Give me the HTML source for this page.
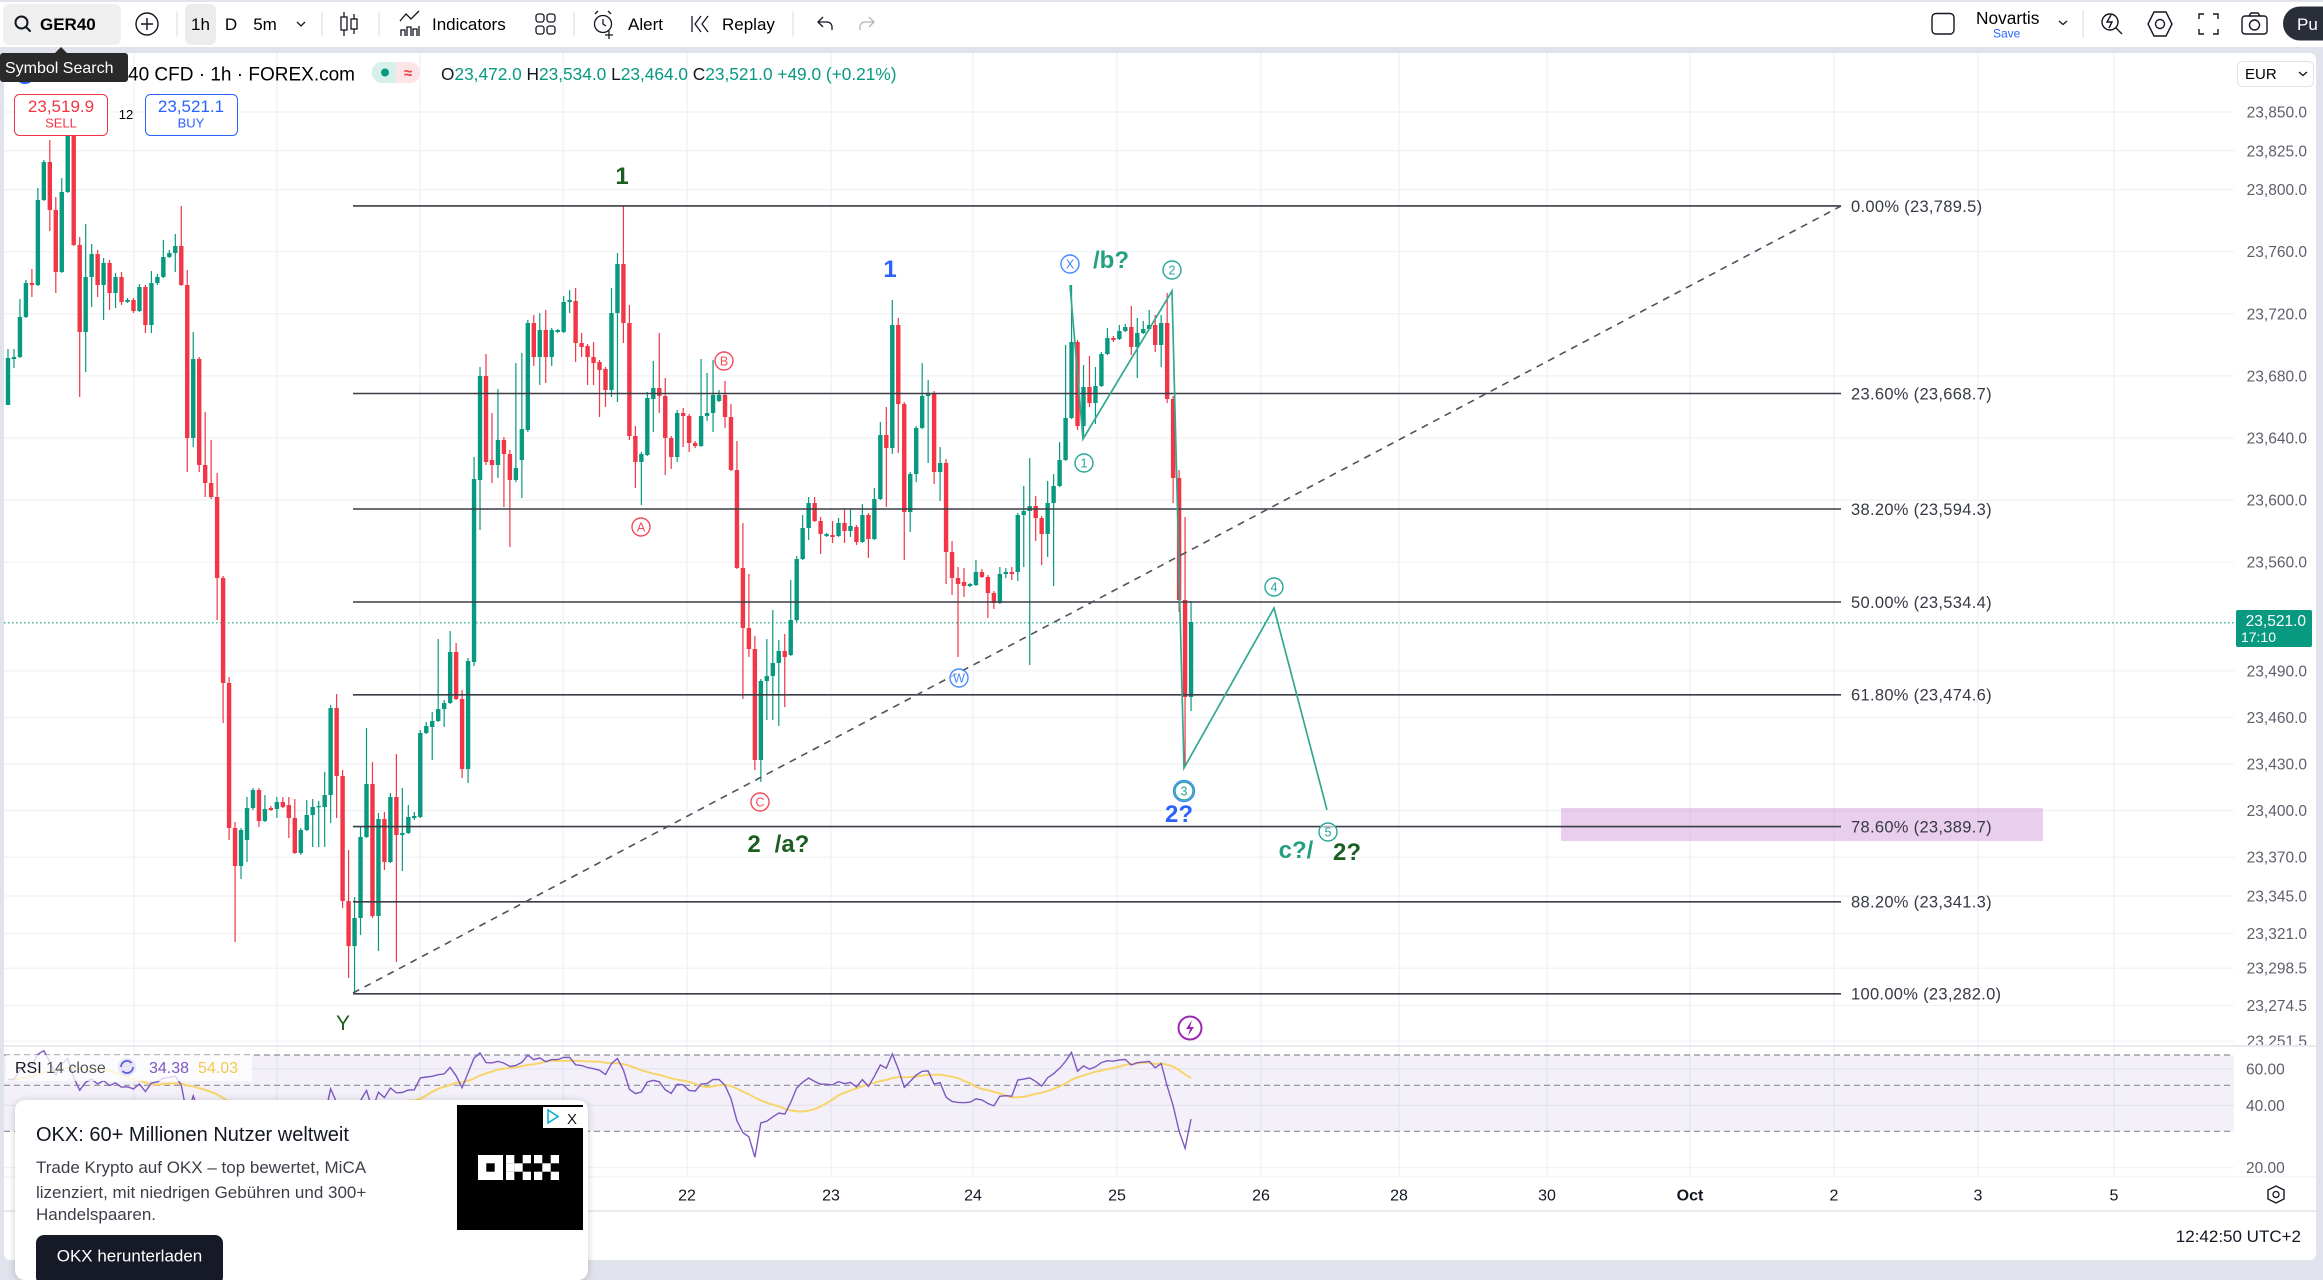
<!DOCTYPE html>
<html><head><meta charset="utf-8">
<style>
*{margin:0;padding:0;box-sizing:border-box}
html,body{width:2323px;height:1266px;overflow:hidden;background:#e0e3eb;font-family:"Liberation Sans",Arial,sans-serif;color:#131722}
.abs{position:absolute}
#ad{left:15px;top:1100px;width:573px;height:180px;background:#fff;border-radius:10px;box-shadow:0 1px 8px rgba(0,0,0,.2)}
</style></head><body>
<div class="abs" style="left:0;top:2px;width:2323px;height:45px;background:#fff"></div>
<div class="abs" style="left:4px;top:53px;width:2312px;height:1207px;background:#fff;border-radius:6px"></div>

<svg class="abs" style="left:0;top:0" width="2323" height="1266" viewBox="0 0 2323 1266" font-family="Liberation Sans, Arial, sans-serif">
<defs>
<clipPath id="rc"><rect x="4" y="1047" width="2230" height="129"/></clipPath>
<clipPath id="mc"><rect x="4" y="53" width="2312" height="992"/></clipPath>
</defs>
<g id="grid"></g>
<line x1="4" y1="1046" x2="2316" y2="1046" stroke="#e0e3eb" stroke-width="1.5"/>
<line x1="4" y1="1177" x2="2316" y2="1177" stroke="#f0f1f4" stroke-width="1"/>
<line x1="4" y1="1211" x2="2316" y2="1211" stroke="#e0e3eb" stroke-width="1.5"/>
<!-- RSI pane -->
<rect x="4" y="1055" width="2230" height="76.3" fill="#7e57c2" fill-opacity="0.09"/>
<g stroke="#8a8d96" stroke-width="1.2" stroke-dasharray="6 4">
<line x1="4" y1="1055" x2="2234" y2="1055"/>
<line x1="4" y1="1085.3" x2="2234" y2="1085.3"/>
<line x1="4" y1="1131.3" x2="2234" y2="1131.3"/>
</g>
<g clip-path="url(#rc)">
<polyline id="rsima" fill="none" stroke="#f7d56a" stroke-width="2"/>
<polyline id="rsi" fill="none" stroke="#7e57c2" stroke-width="1.4"/>
</g>
<!-- current price line -->
<line x1="4" y1="622.8" x2="2234" y2="622.8" stroke="#089981" stroke-width="1.2" stroke-dasharray="1.5 2.5"/>
<g id="cd" clip-path="url(#mc)"></g>
<!-- fib -->
<rect x="1561" y="808" width="482" height="33" fill="#ce93d8" fill-opacity="0.45"/>
<g stroke="#3a3d45" stroke-width="1.6">
<line x1="353" y1="205.9" x2="1841" y2="205.9"/>
<line x1="353" y1="393.5" x2="1841" y2="393.5"/>
<line x1="353" y1="509" x2="1841" y2="509"/>
<line x1="353" y1="602" x2="1841" y2="602"/>
<line x1="353" y1="694.8" x2="1841" y2="694.8"/>
<line x1="353" y1="826.6" x2="1841" y2="826.6"/>
<line x1="353" y1="901.8" x2="1841" y2="901.8"/>
<line x1="353" y1="993.8" x2="1841" y2="993.8"/>
</g>
<g font-size="16.5" fill="#363a45" letter-spacing="0.3">
<text x="1851" y="211.8">0.00% (23,789.5)</text>
<text x="1851" y="399.4">23.60% (23,668.7)</text>
<text x="1851" y="514.9">38.20% (23,594.3)</text>
<text x="1851" y="607.9">50.00% (23,534.4)</text>
<text x="1851" y="700.7">61.80% (23,474.6)</text>
<text x="1851" y="832.5">78.60% (23,389.7)</text>
<text x="1851" y="907.7">88.20% (23,341.3)</text>
<text x="1851" y="999.7">100.00% (23,282.0)</text>
</g>
<line x1="353" y1="993" x2="1841" y2="206" stroke="#50535e" stroke-width="1.6" stroke-dasharray="7 6"/>
<!-- waves -->
<polyline points="1070,285 1083,439 1172,291 1184,768 1274,608 1327,810" fill="none" stroke="#33a891" stroke-width="1.7"/>
<g id="lbl"></g>
<!-- labels text -->
<g font-weight="bold" font-size="24" text-anchor="middle">
<text x="622" y="184" fill="#1b5e20">1</text>
<text x="890" y="277" fill="#2962ff">1</text>
<text x="1111" y="268" fill="#22a07f">/b?</text>
<text x="754" y="852" fill="#1b5e20">2</text>
<text x="792" y="852" fill="#1b5e20">/a?</text>
<text x="1179" y="822" fill="#2962ff">2?</text>
<text x="1296" y="858" fill="#22a07f">c?/</text>
<text x="1347" y="860" fill="#1b5e20">2?</text>
</g>
<text x="343" y="1030" font-size="21" fill="#1b5e20" text-anchor="middle">Y</text>
<!-- lightning -->
<circle cx="1190" cy="1028" r="11.5" fill="#fff" stroke="#9c27b0" stroke-width="2"/>
<path d="M1192 1020l-6 9h4l-2 7 6-9h-4z" fill="#9c27b0"/>
<!-- price axis -->
<g id="pax" clip-path="url(#mc)" font-size="15.5" fill="#5d606b" text-anchor="end"></g>
<rect x="2236" y="610" width="76" height="37" rx="2" fill="#089981"/>
<text x="2306" y="626" font-size="15.5" fill="#fff" text-anchor="end">23,521.0</text>
<text x="2276" y="642" font-size="14" fill="#fff" text-anchor="end">17:10</text>
<rect x="2237.5" y="61.5" width="76" height="25" rx="5" fill="#fff" stroke="#e0e3eb"/>
<text x="2245" y="79" font-size="15">EUR</text>
<path d="M2299 72l4 3.5 4-3.5" fill="none" stroke="#131722" stroke-width="1.3"/>
<!-- RSI axis -->
<g font-size="15.5" fill="#5d606b">
<text x="2246" y="1074.5">60.00</text>
<text x="2246" y="1111">40.00</text>
<text x="2246" y="1173">20.00</text>
</g>
<!-- time axis -->
<g font-size="16" fill="#131722" text-anchor="middle">
<text x="687" y="1200.5">22</text><text x="831" y="1200.5">23</text><text x="973" y="1200.5">24</text>
<text x="1117" y="1200.5">25</text><text x="1261" y="1200.5">26</text><text x="1399" y="1200.5">28</text>
<text x="1547" y="1200.5">30</text><text x="1690" y="1200.5" font-weight="bold">Oct</text>
<text x="1834" y="1200.5">2</text><text x="1978" y="1200.5">3</text><text x="2114" y="1200.5">5</text>
</g>
<polygon points="2276,1186 2284,1190 2284,1199 2276,1203 2268,1199 2268,1190" fill="none" stroke="#131722" stroke-width="1.4"/>
<circle cx="2276" cy="1194.5" r="3" fill="none" stroke="#131722" stroke-width="1.3"/>
<text x="2301" y="1242" font-size="17" fill="#131722" text-anchor="end">12:42:50 UTC+2</text>

<!-- toolbar left -->
<rect x="3" y="4" width="118" height="41" rx="6" fill="#efefef"/>
<circle cx="21.5" cy="22.5" r="6" fill="none" stroke="#131722" stroke-width="2"/>
<line x1="26" y1="27" x2="30" y2="31" stroke="#131722" stroke-width="2" stroke-linecap="round"/>
<text x="40" y="30" font-size="17" font-weight="bold">GER40</text>
<circle cx="147" cy="24" r="11" fill="none" stroke="#131722" stroke-width="1.4"/>
<path d="M147 18v12M141 24h12" stroke="#131722" stroke-width="1.4"/>
<g stroke="#e0e3eb" stroke-width="1.3"><line x1="177" y1="12" x2="177" y2="36"/><line x1="322" y1="12" x2="322" y2="36"/><line x1="379" y1="12" x2="379" y2="36"/><line x1="574" y1="12" x2="574" y2="36"/><line x1="793" y1="12" x2="793" y2="36"/><line x1="2083" y1="10" x2="2083" y2="38"/></g>
<rect x="185" y="4" width="31" height="41" rx="6" fill="#ececec"/>
<g font-size="17" text-anchor="middle"><text x="200.5" y="30">1h</text><text x="231" y="30">D</text><text x="265" y="30">5m</text></g>
<path d="M297 22l4 4 4-4" fill="none" stroke="#131722" stroke-width="1.3"/>
<g fill="none" stroke="#131722" stroke-width="1.3">
<path d="M344 12v24M354 14v20"/>
<rect x="341" y="17" width="6" height="13" fill="#fff"/><rect x="351" y="19" width="6" height="10" fill="#fff"/>
<path d="M400 21l6-7 5 5 8-8"/><path d="M401 36v-6h4v6M407 36v-9h4v9M413 36v-7h4v7M419 36v-10"/>
<rect x="536" y="14" width="8" height="8" rx="2.5"/><rect x="547" y="14" width="8" height="8" rx="2.5"/><rect x="536" y="26" width="8" height="8" rx="2.5"/><rect x="547" y="26" width="8" height="8" rx="2.5"/>
<circle cx="603" cy="24" r="8.5"/><path d="M603 19v5l3 2M595 14l3-3M611 14l-3-3M609 31v8M605 35h8"/>
<path d="M692 16v16M701 16l-6 8 6 8M708 16l-6 8 6 8"/>
<path d="M823 17l-5 5 5 5M818 22h9a5 5 0 0 1 5 5v3"/>
</g>
<path d="M869 17l5 5-5 5M874 22h-9a5 5 0 0 0-5 5v3" fill="none" stroke="#b2b5be" stroke-width="1.3"/>
<g font-size="17"><text x="432" y="30">Indicators</text><text x="628" y="30">Alert</text><text x="722" y="30">Replay</text></g>
<!-- toolbar right -->
<rect x="1932" y="13.5" width="22" height="20.5" rx="4" fill="none" stroke="#131722" stroke-width="1.4"/>
<text x="1976" y="24" font-size="17.3">Novartis</text>
<text x="1993" y="37.5" font-size="12" fill="#2962ff">Save</text>
<path d="M2059 21l4 3.5 4-3.5" fill="none" stroke="#131722" stroke-width="1.3"/>
<g fill="none" stroke="#131722" stroke-width="1.4">
<circle cx="2110" cy="22" r="8"/><path d="M2116 28l6 6M2111 15l-4 7h5l-3 6"/>
<polygon points="2160,12 2172,18 2172,30 2160,36 2148,30 2148,18" transform="rotate(90 2160 24)"/><circle cx="2160" cy="24" r="4.5"/>
<path d="M2199 19v-5h5M2213 14h5v5M2218 29v5h-5M2204 34h-5v-5"/>
<rect x="2242" y="16" width="25" height="18" rx="3"/><circle cx="2254.5" cy="25" r="5"/><path d="M2249 16l2-3h7l2 3"/>
</g>
<rect x="2283" y="6.5" width="60" height="34" rx="17" fill="#2a2e39"/>
<text x="2297" y="30" font-size="17" fill="#fff">Pu</text>

<!-- legend row -->
<circle cx="25" cy="74" r="10" fill="#2962ff"/>
<text x="128" y="80.5" font-size="19">40 CFD · 1h · FOREX.com</text>
<rect x="372" y="62" width="48" height="21" rx="10" fill="#fde4e7"/>
<path d="M382 62h14v21h-14a10 10 0 0 1 0-21z" fill="#d6f0ea"/>
<circle cx="385" cy="72.5" r="4" fill="#089981"/>
<text x="408" y="78" font-size="15" fill="#f23645" text-anchor="middle" font-weight="bold">≈</text>
<g font-size="17.3">
<text x="441" y="80"><tspan fill="#131722">O</tspan><tspan fill="#089981">23,472.0 </tspan><tspan fill="#131722">H</tspan><tspan fill="#089981">23,534.0 </tspan><tspan fill="#131722">L</tspan><tspan fill="#089981">23,464.0 </tspan><tspan fill="#131722">C</tspan><tspan fill="#089981">23,521.0 +49.0 (+0.21%)</tspan></text>
</g>
<rect x="14.5" y="94.5" width="93" height="41" rx="5" fill="#fff" stroke="#f23645"/>
<text x="61" y="112" font-size="17" fill="#f23645" text-anchor="middle">23,519.9</text>
<text x="61" y="127.5" font-size="13" fill="#f23645" text-anchor="middle">SELL</text>
<text x="126" y="119" font-size="13" text-anchor="middle">12</text>
<rect x="145.5" y="94.5" width="92" height="41" rx="5" fill="#fff" stroke="#2962ff"/>
<text x="191" y="112" font-size="17" fill="#2962ff" text-anchor="middle">23,521.1</text>
<text x="191" y="127.5" font-size="13" fill="#2962ff" text-anchor="middle">BUY</text>
<!-- RSI legend -->
<rect x="6" y="1055" width="246" height="26" fill="#fff" fill-opacity="0.75"/>
<text x="15" y="1073" font-size="16"><tspan fill="#131722">RSI</tspan><tspan fill="#50535e"> 14 close</tspan></text>
<circle cx="127" cy="1067" r="9" fill="#e8e4fa"/>
<path d="M121 1067a6 6 0 0 1 10.5-4M133 1067a6 6 0 0 1-10.5 4" fill="none" stroke="#5b5fd6" stroke-width="1.8"/>
<text x="149" y="1073" font-size="16" fill="#7e57c2">34.38</text>
<text x="198" y="1073" font-size="16" fill="#f2c94c">54.03</text>
<!-- tooltip -->
<rect x="0" y="53" width="128" height="29" rx="3" fill="#2a2a2a"/>
<polygon points="55,53 61,47 67,53" fill="#2a2a2a"/>
<text x="5" y="73" font-size="16" fill="#fff">Symbol Search</text>
</svg>

<!-- Ad -->
<div id="ad" class="abs">
<svg width="573" height="180" style="position:absolute;left:0;top:0" font-family="Liberation Sans, Arial, sans-serif">
<text x="21" y="41" font-size="20" fill="#131722">OKX: 60+ Millionen Nutzer weltweit</text>
<g font-size="17" fill="#3c3f48">
<text x="21" y="73">Trade Krypto auf OKX – top bewertet, MiCA</text>
<text x="21" y="98">lizenziert, mit niedrigen Gebühren und 300+</text>
<text x="21" y="120">Handelspaaren.</text>
</g>
<rect x="21" y="135" width="187" height="50" rx="8" fill="#151a26"/>
<text x="114.5" y="161.5" font-size="17" fill="#fff" text-anchor="middle">OKX herunterladen</text>
<rect x="442" y="5" width="126" height="125" fill="#000"/>
<g fill="#fff">
<rect x="463" y="55" width="25" height="25"/>
<rect x="471.3" y="63.3" width="8.4" height="8.4" fill="#000"/>
<rect x="491" y="55" width="8.3" height="8.3"/><rect x="491" y="63.3" width="8.3" height="8.4"/><rect x="491" y="71.7" width="8.3" height="8.3"/>
<rect x="499.3" y="63.3" width="8.4" height="8.4"/><rect x="507.7" y="55" width="8.3" height="8.3"/><rect x="507.7" y="71.7" width="8.3" height="8.3"/>
<rect x="519" y="55" width="8.3" height="8.3"/><rect x="535.7" y="55" width="8.3" height="8.3"/><rect x="527.3" y="63.3" width="8.4" height="8.4"/><rect x="519" y="71.7" width="8.3" height="8.3"/><rect x="535.7" y="71.7" width="8.3" height="8.3"/>
</g>
<rect x="528" y="7" width="40" height="21" fill="#fff"/>
<path d="M533 10v13l10-6.5z" fill="none" stroke="#00aecd" stroke-width="1.5"/>
<text x="557" y="24" font-size="15" fill="#131722" text-anchor="middle">X</text>
</svg>
</div>

<script>
(function(){
var D=[
[405,358,349,405],[359,357,349,368],[357,317,299,358],[317,283,280,318],[283,285,269,297],
[285,200,188,286],[200,162,160,201],[162,210,140,231],[210,272,197,293],[272,192,178,273],
[192,133,126,193],[133,245,128,246],[245,332,237,397],[332,277,224,372],[277,254,244,307],
[254,285,250,297],[285,263,258,320],[263,293,260,310],[293,277,273,308],[277,302,272,305],
[302,300,298,303],[300,311,298,313],[311,287,284,312],[287,325,285,333],[325,283,271,333],
[283,277,274,285],[277,257,240,278],[257,253,250,258],[253,246,234,272],[246,285,206,286],
[285,438,270,472],[438,359,332,447],[359,465,357,472],[465,483,412,497],[483,497,440,499],
[497,578,473,620],[578,683,576,723],[683,828,677,840],[828,866,822,942],[866,830,828,879],
[840,808,797,862],[808,790,788,810],[790,821,788,827],[821,809,795,822],[808,810,806,811],
[809,802,797,818],[802,807,797,808],[805,818,797,838],[818,853,799,854],[853,830,828,855],
[830,815,800,831],[815,807,799,847],[807,806,801,847],[807,795,772,847],[795,708,705,823],
[708,776,694,818],[776,901,770,908],[901,946,850,978],[946,918,897,993],[918,837,827,935],
[837,784,728,838],[784,916,762,918],[916,819,813,951],[819,862,812,870],[862,797,793,863],
[797,835,754,962],[835,833,788,871],[833,817,805,834],[818,816,812,820],[817,733,730,818],
[733,726,722,734],[727,721,712,760],[721,709,639,722],[709,703,700,727],[703,652,631,704],
[652,699,643,700],[699,769,690,778],[769,661,658,783],[662,479,457,666],[480,376,367,530],
[376,462,354,465],[460,465,413,483],[465,440,389,478],[440,454,437,507],[454,480,450,547],
[480,468,363,482],[460,429,353,498],[430,323,320,432],[323,357,315,366],[357,330,313,385],
[330,357,310,383],[357,330,328,366],[332,330,329,333],[332,302,296,333],[302,300,290,313],
[301,343,288,362],[343,347,333,357],[346,357,344,385],[357,363,342,385],[362,370,360,417],
[369,390,367,407],[390,313,288,397],[313,264,253,402],[264,323,206,343],[323,436,305,440],
[436,462,426,488],[462,454,452,505],[455,398,392,456],[399,388,361,432],[388,396,333,413],
[396,438,378,475],[438,457,436,469],[457,413,410,462],[413,416,408,447],[416,443,414,452],
[443,446,441,448],[446,416,359,447],[416,413,373,421],[413,395,360,432],[401,395,390,402],
[395,417,381,428],[417,470,404,471],[470,568,441,569],[568,628,523,699],[628,649,574,657],
[649,760,636,770],[760,681,679,782],[681,676,639,720],[676,663,610,720],[663,651,640,726],
[651,657,634,707],[655,620,580,656],[620,559,556,622],[559,528,515,560],[528,503,497,540],
[503,521,497,522],[521,534,517,554],[536,534,533,537],[535,537,521,543],[536,523,518,537],
[523,531,509,543],[531,526,509,537],[527,542,525,545],[542,515,504,543],[515,539,513,558],
[539,499,488,540],[499,435,422,500],[435,448,407,507],[448,325,300,454],[325,404,318,453],
[404,512,402,560],[512,474,472,532],[474,428,426,482],[428,396,363,429],[396,393,380,463],
[393,472,391,484],[472,463,447,501],[463,552,459,584],[552,578,541,595],[578,584,567,657],
[582,586,568,597],[586,584,583,587],[585,572,560,586],[572,577,569,578],[577,593,575,618],
[593,603,591,609],[603,574,567,604],[574,572,568,578],[572,574,567,580],[572,515,513,581],
[515,511,486,567],[511,506,458,665],[506,518,496,541],[518,534,516,565],[534,503,481,557],
[503,486,474,586],[486,460,442,487],[460,418,345,461],[418,342,285,419],[342,426,340,430],
[426,387,365,438],[387,403,356,407],[403,386,367,424],[386,354,352,387],[354,338,328,355],
[338,340,336,342],[339,331,325,340],[331,327,324,332],[327,347,306,355],[347,333,318,378],
[333,329,321,334],[329,325,310,330],[325,345,315,352],[345,323,315,367],[323,399,293,403],
[399,478,396,503],[478,600,470,612],[600,697,517,766],[697,622,601,711]];
var X0=8,DX=5.975,s='',i;
for(i=0;i<D.length;i++){var d=D[i],x=X0+i*DX,o=d[0],c=d[1],t=Math.min(o,c),b=Math.max(o,c),h=Math.min(d[2],t),l=Math.max(d[3],b),col=(c<=o)?'#089981':'#f23645';
s+='<rect x="'+(x-0.6).toFixed(2)+'" y="'+h+'" width="1.2" height="'+(l-h)+'" fill="'+col+'"/>';
s+='<rect x="'+(x-2.2).toFixed(2)+'" y="'+t+'" width="4.4" height="'+Math.max(b-t,1.3)+'" fill="'+col+'"/>';}
document.getElementById('cd').innerHTML=s;
/* grid */
var hy=[111.97,150.78,189.6,251.7,313.8,375.9,438,500.1,562.2,670.9,717.5,764.1,810.6,857.2,896,933.3,968.2,1005.5,1041.2];
var vx=[134,277,420,563,687,831,973,1117,1261,1399,1547,1690,1834,1978,2114];
var g='';
hy.forEach(function(y){g+='<line x1="4" y1="'+y+'" x2="2234" y2="'+y+'" stroke="#f0f1f4" stroke-width="1.2"/>';});
[1068.9,1105.4,1167.7].forEach(function(y){g+='<line x1="4" y1="'+y+'" x2="2234" y2="'+y+'" stroke="#f0f1f4" stroke-width="1.2"/>';});
vx.forEach(function(x){g+='<line x1="'+x+'" y1="53" x2="'+x+'" y2="1176" stroke="#f0f1f4" stroke-width="1.2"/>';});
document.getElementById('grid').innerHTML=g;
/* price axis */
var pv=['23,850.0','23,825.0','23,800.0','23,760.0','23,720.0','23,680.0','23,640.0','23,600.0','23,560.0','23,490.0','23,460.0','23,430.0','23,400.0','23,370.0','23,345.0','23,321.0','23,298.5','23,274.5','23,251.5'];
var pa='';pv.forEach(function(v,k){pa+='<text x="2307" y="'+(hy[k]+5.5).toFixed(1)+'">'+v+'</text>';});
document.getElementById('pax').innerHTML=pa;
/* circle labels */
function cl(x,y,col,t){return '<circle cx="'+x+'" cy="'+y+'" r="9" fill="#fff" fill-opacity="0.6" stroke="'+col+'" stroke-width="1.4"/><text x="'+x+'" y="'+(y+4.5)+'" font-size="12.5" fill="'+col+'" text-anchor="middle">'+t+'</text>';}
var L='';
L+=cl(724,361,'#f44a5a','B')+cl(641,527,'#f44a5a','A')+cl(760,802,'#f44a5a','C');
L+=cl(1070,264,'#448aff','X')+cl(959,678,'#448aff','W');
L+=cl(1172,270,'#26a69a','2')+cl(1084,463,'#26a69a','1')+cl(1274,587,'#26a69a','4')+cl(1328,832,'#26a69a','5');
L+='<circle cx="1184" cy="791" r="10.5" fill="none" stroke="#448aff" stroke-width="1.4"/>'+cl(1184,791,'#26a69a','3');
document.getElementById('lbl').innerHTML=L;
/* RSI */
var P=D.map(function(d){return 23789.5-(d[1]-205.9)/1.5526;});
var W=[];for(var k=0;k<40;k++){W.push(23655+k*0.9+(((k*7)%5)-2)*7);}
var A=W.concat(P),r=[],ag=0,al=0;
for(i=1;i<A.length;i++){var ch=A[i]-A[i-1],gg=ch>0?ch:0,lo=ch<0?-ch:0;
 if(i<=14){ag+=gg;al+=lo;if(i==14){ag/=14;al/=14;r[i]=100-100/(1+ag/Math.max(al,1e-6));}}
 else{ag=(ag*13+gg)/14;al=(al*13+lo)/14;r[i]=100-100/(1+ag/Math.max(al,1e-6));}}
function ry(v){return 1055+90*Math.log(70/v);}
var p1=[],p2=[];
for(i=0;i<D.length;i++){var j=i+40,xx=(X0+i*DX).toFixed(1);p1.push(xx+','+ry(r[j]).toFixed(1));var sm=0;for(var q=j-13;q<=j;q++)sm+=r[q];p2.push(xx+','+ry(sm/14).toFixed(1));}
document.getElementById('rsi').setAttribute('points',p1.join(' '));
document.getElementById('rsima').setAttribute('points',p2.join(' '));
})();
</script>
</body></html>
